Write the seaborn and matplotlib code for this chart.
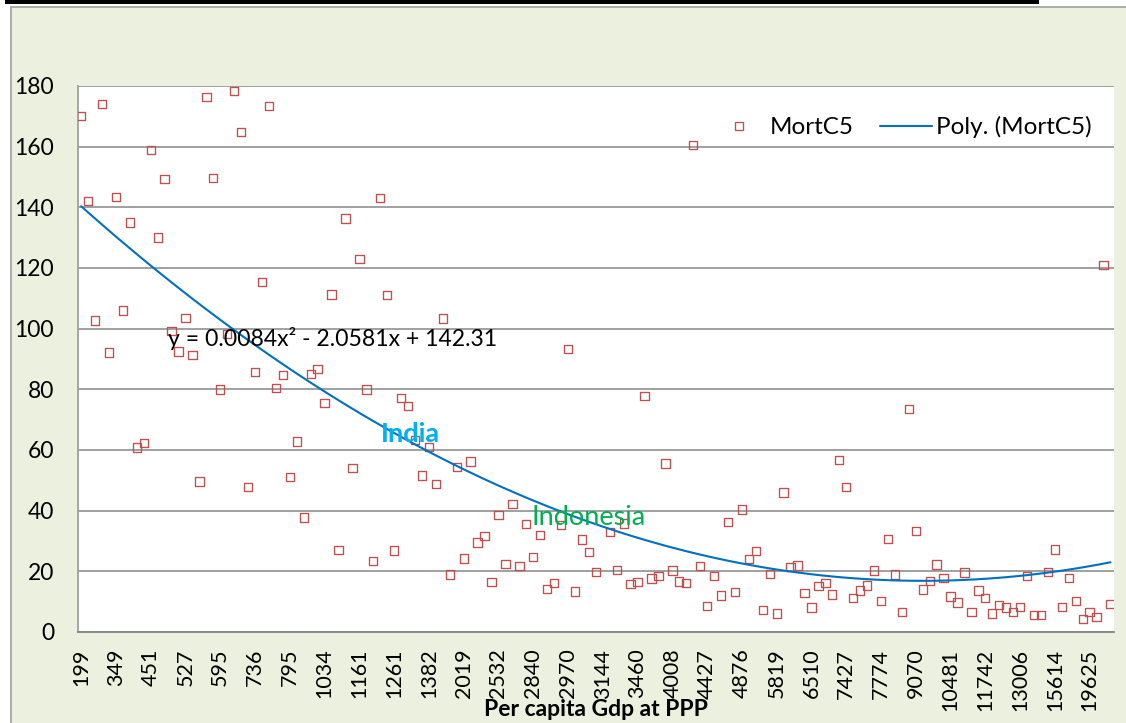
import numpy as np
import pandas as pd
import matplotlib
matplotlib.use("Agg")
import matplotlib.pyplot as plt
from matplotlib.lines import Line2D
from matplotlib.patches import Rectangle
import seaborn as sns

# ---------------- data ----------------
mort_c5 = [
    170.0, 142.0, 102.7, 174.1, 92.1, 143.4, 106.0, 135.0, 60.8, 62.2,
    158.9, 130.0, 149.3, 99.2, 92.5, 103.5, 91.3, 49.6, 176.4, 149.6,
    80.0, 98.2, 178.3, 164.8, 47.9, 85.7, 115.4, 173.5, 80.4, 84.7,
    51.1, 62.8, 37.8, 85.1, 86.6, 75.4, 111.3, 27.0, 136.3, 54.0,
    123.0, 80.0, 23.5, 143.1, 111.2, 26.9, 77.2, 74.5, 63.4, 51.6,
    61.0, 48.7, 103.4, 19.0, 54.3, 24.2, 56.2, 29.5, 31.7, 16.5,
    38.6, 22.5, 42.1, 21.8, 35.7, 24.8, 31.9, 14.1, 16.2, 35.3,
    93.4, 13.4, 30.5, 26.4, 19.7, np.nan, 32.9, 20.5, 35.8, 15.8,
    16.4, 77.8, 17.6, 18.4, 55.6, 20.3, 16.7, 16.2, 160.6, 21.8,
    8.6, 18.5, 12.0, 36.2, 13.1, 40.4, 24.1, 26.6, 7.2, 19.2,
    6.1, 46.0, 21.5, 21.9, 12.8, 8.1, 15.1, 16.1, 12.4, 56.8,
    47.8, 11.3, 13.7, 15.3, 20.3, 10.2, 30.6, 19.0, 6.5, 73.6,
    33.3, 14.0, 16.8, 22.3, 17.8, 11.7, 9.7, 19.6, 6.7, 13.7,
    11.2, 6.1, 9.0, 8.1, 6.7, 8.2, 18.4, 5.6, 5.6, 19.7,
    27.2, 8.2, 17.7, 10.3, 4.2, 6.5, 5.0, 120.9, 9.3,
]
tick_labels = [
    "199", "349", "451", "527", "595", "736", "795", "1034", "1161", "1261",
    "1382", "2019", "2532", "2840", "2970", "3144", "3460", "4008", "4427", "4876",
    "5819", "6510", "7427", "7774", "9070", "10481", "11742", "13006", "15614", "19625",
]
label_step = 5
y_ticks = [0, 20, 40, 60, 80, 100, 120, 140, 160, 180]
series_name = "MortC5"
trend_name = "Poly. (MortC5)"
equation_text = "y = 0.0084x\u00b2 - 2.0581x + 142.31"
x_title = "Per capita Gdp at PPP"
annotations = [("India", 47.35, 65.3, "#00B0F0", "bold"),
               ("Indonesia", 73.0, 37.9, "#00B050", "normal")]

# ---------------- style ----------------
sns.set_style("white")
plt.rcParams["font.family"] = ["Lato", "DejaVu Sans"]
plt.rcParams["text.color"] = "black"
plt.rcParams["xtick.labelcolor"] = "black"
plt.rcParams["ytick.labelcolor"] = "black"
plt.rcParams["axes.labelcolor"] = "black"
FS = 16.5

W, H = 1126, 723
fig = plt.figure(figsize=(W / 100, H / 100), dpi=100, facecolor="white")

# chart area background + document line on top
fig.patches.append(Rectangle((10.5 / W, -0.05), 1.2, 1 - 6.7 / H + 0.05,
                             transform=fig.transFigure, fc="#EBF1DE",
                             ec="#A6A6A6", lw=1.3, zorder=-10))
fig.patches.append(Rectangle((5 / W, 1 - 3.6 / H), (1039 - 5) / W, 3.6 / H,
                             transform=fig.transFigure, fc="black",
                             ec="none", zorder=-9))

ax = fig.add_axes([77.7 / W, 1 - 632 / H, (1114 - 77.7) / W, (632 - 86) / H])
ax.set_zorder(1)
ax.set_facecolor("white")

n = len(mort_c5)
df = pd.DataFrame({"cat": np.arange(n), series_name: mort_c5})

sns.scatterplot(data=df, x="cat", y=series_name, marker="s", s=36,
                facecolor="none", edgecolor="#C0504D", linewidth=0.95,
                ax=ax, zorder=3)
sns.regplot(data=df, x="cat", y=series_name, order=2, ci=None,
            scatter=False, truncate=True,
            line_kws=dict(color="#0070C0", lw=1.5, zorder=4), ax=ax)

# axes
ax.set_xlim(-0.5, n - 0.5)
ax.set_ylim(0, 180)
ax.set_yticks(y_ticks)
ax.set_yticklabels([str(v) for v in y_ticks])
ax.yaxis.grid(True, color="#868686", lw=1.1)
ax.xaxis.grid(False)
ax.set_axisbelow(True)

major = np.arange(0, n, label_step)[:len(tick_labels)]
ax.set_xticks(major)
ax.set_xticklabels(tick_labels, rotation=90, ha="center", va="top")
ax.set_xticks(np.arange(-0.5, n, 1.0), minor=True)
ax.tick_params(axis="x", which="major", length=0, pad=12, labelsize=15.5)
ax.tick_params(axis="x", which="minor", length=5, width=1.0,
               color="#868686", direction="out")
ax.tick_params(axis="y", which="major", length=5, width=1.0,
               color="#B4B4B4", direction="out", pad=12, labelsize=FS)

for s in ("top", "right"):
    ax.spines[s].set_visible(False)
ax.spines["left"].set_color("#A0A0A0")
ax.spines["left"].set_linestyle((0, (1, 1)))
ax.spines["left"].set_linewidth(1.3)
ax.spines["bottom"].set_color("#868686")
ax.spines["bottom"].set_linewidth(1.3)

ax.set_ylabel("")
ax.set_xlabel(x_title, fontweight="bold", fontsize=16.5, va="baseline")
ax.xaxis.set_label_coords(0.5, (632 - 716) / 546)

# texts
ax.text(12.48, 96.9, equation_text, ha="left", va="center", fontsize=16.6,
        color="black", zorder=6)
for name, xx, yy, col, wt in annotations:
    ax.text(xx, yy, name, ha="center", va="center", fontsize=19.5,
            color=col, fontweight=wt, zorder=6)

# legend
handles = [
    Line2D([], [], marker="s", linestyle="none", markersize=6.0,
           markerfacecolor="none", markeredgecolor="#C0504D",
           markeredgewidth=0.95),
    Line2D([], [], color="#0070C0", lw=1.5),
]
leg = fig.legend(handles, [series_name, trend_name], loc="center right",
                 bbox_to_anchor=(1092 / W, 1 - 127 / H), ncol=2, frameon=False,
                 fontsize=17.5, handlelength=2.1, handletextpad=0.2,
                 columnspacing=1.1, borderaxespad=0, borderpad=0)
leg.set_zorder(5)

fig.savefig("out.png", dpi=100, facecolor="white")
